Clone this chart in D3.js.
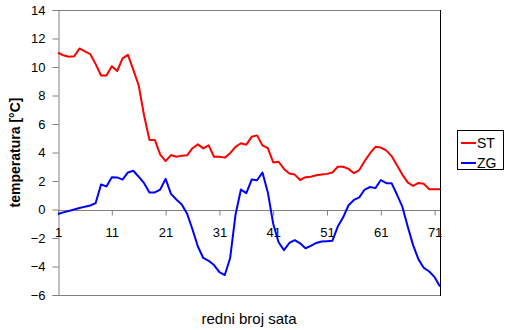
<!DOCTYPE html>
<html><head><meta charset="utf-8">
<script src="https://cdn.jsdelivr.net/npm/d3@7"></script>
<style>body{margin:0;background:#fff}svg{display:block}text{font-family:"Liberation Sans",Arial,sans-serif}</style>
</head><body>
<svg id="c" width="510" height="330"></svg>
<script>
const hours = d3.range(1, 73);
const stValues = [11.0,10.82,10.72,10.75,11.3,11.1,10.9,10.2,9.4,9.4,10.05,9.72,10.6,10.85,9.8,8.7,6.6,4.88,4.88,3.85,3.4,3.82,3.7,3.78,3.8,4.3,4.57,4.29,4.5,3.7,3.7,3.64,3.95,4.4,4.65,4.55,5.1,5.2,4.5,4.3,3.3,3.35,2.85,2.52,2.45,2.07,2.27,2.3,2.4,2.45,2.5,2.6,3.0,3.0,2.85,2.55,2.77,3.4,3.95,4.4,4.35,4.15,3.75,3.1,2.45,1.9,1.65,1.86,1.8,1.42,1.42,1.42];
const zgValues = [-0.32,-0.2,-0.1,0.0,0.1,0.2,0.28,0.45,1.75,1.62,2.26,2.25,2.1,2.6,2.72,2.3,1.85,1.2,1.2,1.4,2.15,1.1,0.7,0.35,-0.3,-1.4,-2.6,-3.4,-3.6,-3.9,-4.4,-4.6,-3.4,-0.35,1.4,1.15,2.1,2.05,2.6,1.2,-1.0,-2.3,-2.85,-2.35,-2.15,-2.37,-2.72,-2.55,-2.35,-2.25,-2.22,-2.2,-1.2,-0.55,0.3,0.67,0.85,1.4,1.58,1.5,2.07,1.85,1.85,1.05,0.2,-1.2,-2.5,-3.5,-4.1,-4.35,-4.75,-5.4];
const seriesNames = ["ST","ZG"];
const seriesColors = ["#ff0000","#0000ff"];
const yTicks = [-6,-4,-2,0,2,4,6,8,10,12,14];
const xTicks = [1,11,21,31,41,51,61,71];

const svg = d3.select("#c");
const L = 58, R = 440, T = 10, B = 295;
const x = d3.scaleLinear().domain([1,72]).range([L,R]);
const y = d3.scaleLinear().domain([-6,14]).range([B,T]);

// frame
svg.append("line").attr("x1",L).attr("x2",R).attr("y1",T+0.5).attr("y2",T+0.5).attr("stroke","#808080");
svg.append("line").attr("x1",L).attr("x2",R).attr("y1",B+0.5).attr("y2",B+0.5).attr("stroke","#808080");
svg.append("line").attr("x1",R+0.5).attr("x2",R+0.5).attr("y1",T).attr("y2",B+1).attr("stroke","#000");

// y axis
const ya = svg.append("g").attr("transform",`translate(${L+0.5},0)`)
  .call(d3.axisLeft(y).tickValues(yTicks).tickSize(6).tickPadding(7).tickFormat(d3.format("d")));
ya.select(".domain").attr("stroke","#808080");
ya.selectAll(".tick line").attr("stroke","#808080");
ya.selectAll("text").attr("font-size",13).attr("fill","#000").style("font-family","Liberation Sans, Arial, sans-serif");

// x axis at y=0
const xa = svg.append("g").attr("transform",`translate(0,${Math.round(y(0))+0.5})`)
  .call(d3.axisBottom(x).tickValues(xTicks).tickSize(5).tickPadding(12).tickFormat(d3.format("d")));
xa.select(".domain").attr("stroke","#808080").attr("d",`M${L},0H${R}`);
xa.selectAll(".tick line").attr("stroke","#808080");
xa.selectAll("text").attr("font-size",13).attr("fill","#000").style("font-family","Liberation Sans, Arial, sans-serif");

// lines
const line = d3.line().x((d,i)=>x(hours[i])).y(d=>y(d));
[stValues, zgValues].forEach((vals,k)=>{
  svg.append("path").datum(vals).attr("d",line).attr("fill","none")
    .attr("stroke",seriesColors[k]).attr("stroke-width",2).attr("stroke-linejoin","round");
});

// titles
svg.append("text").attr("transform",`translate(20,${(T+B)/2}) rotate(-90)`)
  .attr("text-anchor","middle").attr("font-size",14).attr("font-weight","bold").text("temperatura [°C]");
svg.append("text").attr("x",(L+R)/2).attr("y",324).attr("text-anchor","middle")
  .attr("font-size",15).text("redni broj sata");

// legend
const lg = svg.append("g");
lg.append("rect").attr("x",457.5).attr("y",130.5).attr("width",46).attr("height",39)
  .attr("fill","#fff").attr("stroke","#000");
seriesNames.forEach((n,k)=>{
  const yy = 143 + k*20;
  lg.append("line").attr("x1",461).attr("x2",476).attr("y1",yy).attr("y2",yy)
    .attr("stroke",seriesColors[k]).attr("stroke-width",2);
  lg.append("text").attr("x",477).attr("y",yy+5).attr("font-size",14).text(n);
});
</script>
</body></html>
